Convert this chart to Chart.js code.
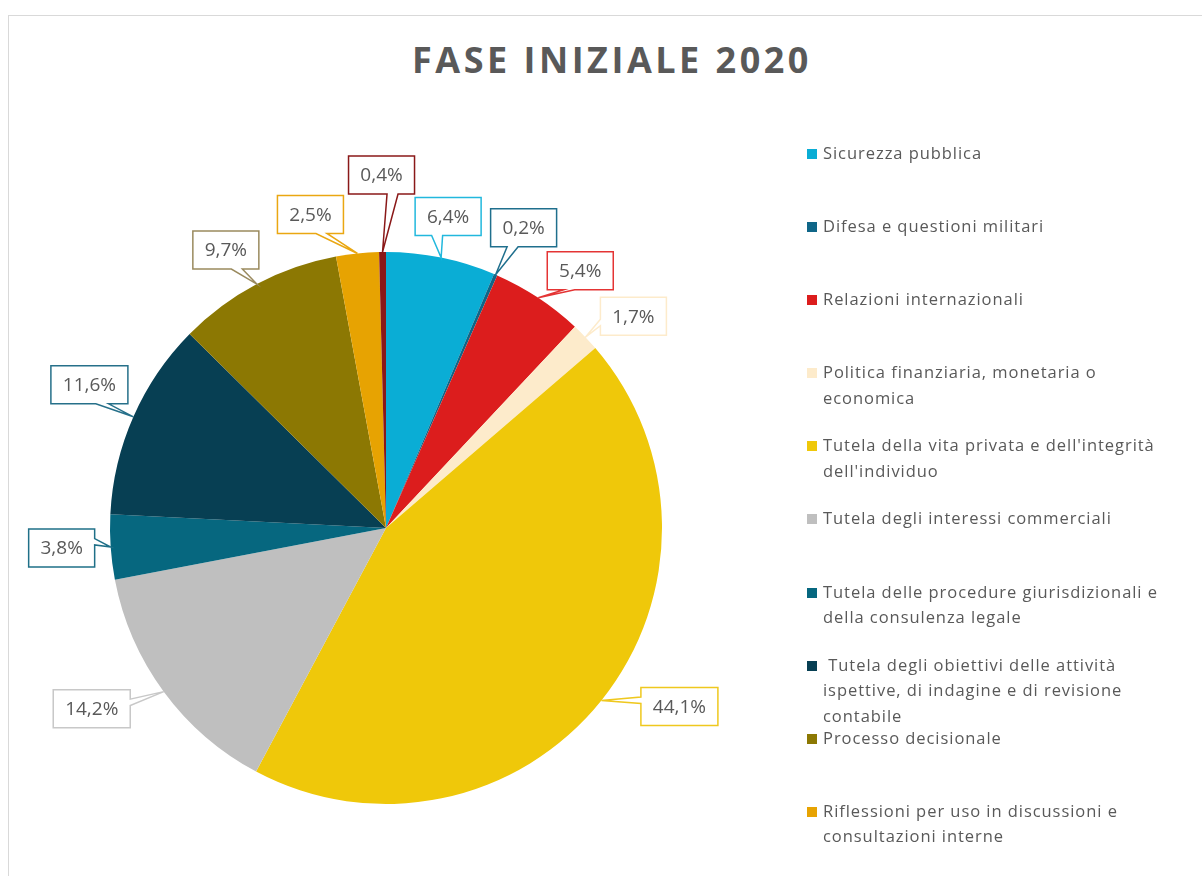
<!DOCTYPE html>
<html lang="it">
<head>
    <meta charset="UTF-8">
    <meta name="viewport" content="width=device-width, initial-scale=1.0">
    <title>Fase iniziale 2020</title>
    <script src="https://cdn.jsdelivr.net/npm/chart.js"></script>
    <style>
        html, body {
            margin: 0;
            padding: 0;
            background: #FFFFFF;
            overflow: hidden;
        }
        body {
            width: 1202px;
            height: 876px;
            position: relative;
            font-family: "Open Sans", sans-serif;
            color: #595959;
        }
        .frame {
            position: absolute;
            left: 8px;
            top: 15px;
            width: 1230px;
            height: 900px;
            border: 1px solid #D9D9D9;
        }
        h2 {
            position: absolute;
            left: 2px;
            top: 42px;
            width: 1220px;
            margin: 0;
            text-align: center;
            font-size: 36px;
            line-height: 36px;
            font-weight: 700;
            letter-spacing: 3.5px;
            color: #595959;
        }
        .chart-box {
            position: absolute;
            left: 0;
            top: 0;
            width: 1202px;
            height: 876px;
        }
        #legend {
            position: absolute;
            left: 806px;
            top: 140px;
            margin: 0;
            padding: 0;
            list-style: none;
            width: 355px;
        }
        #legend li {
            position: relative;
            height: 73.1px;
            padding-left: 17px;
            font-size: 16.5px;
            line-height: 25.5px;
            letter-spacing: 0.95px;
            white-space: pre-wrap;
        }
        #legend li span {
            position: absolute;
            left: 1px;
            top: 9px;
            width: 10px;
            height: 10px;
        }
    </style>
</head>
<body>
    <div class="frame"></div>
    <h2>FASE INIZIALE 2020</h2>
    <div class="chart-box">
        <canvas id="chart"></canvas>
    </div>
    <ul id="legend"></ul>
    <script>
        // categories, clockwise from 12 o'clock
        const categories = [
            "Sicurezza pubblica",
            "Difesa e questioni militari",
            "Relazioni internazionali",
            "Politica finanziaria, monetaria o economica",
            "Tutela della vita privata e dell'integrità dell'individuo",
            "Tutela degli interessi commerciali",
            "Tutela delle procedure giurisdizionali e della consulenza legale",
            " Tutela degli obiettivi delle attività ispettive, di indagine e di revisione contabile",
            "Processo decisionale",
            "Riflessioni per uso in discussioni e consultazioni interne",
            "Altro"
        ];
        // share of requests (%)
        const shares = [6.4, 0.2, 5.4, 1.7, 44.1, 14.2, 3.8, 11.6, 9.7, 2.5, 0.4];

        const sliceColors = [
            "#0AADD5", "#0F6688", "#DC1D1D", "#FDEBCB", "#EFC80A", "#BFBFBF",
            "#06677F", "#073F53", "#8C7803", "#E7A302", "#8A1818"
        ];
        const calloutColors = [
            "#22B8DD", "#1F6F8D", "#E43434", "#FDEBCB", "#EFC81E", "#C8C8C8",
            "#1F7088", "#26708A", "#9A8A5E", "#EAA712", "#8A1818"
        ];
        // callout box centre, relative to the slice tip on the rim
        const calloutOffsets = [
            [7, -41], [28, -47], [42, -27], [48, -21], [78, 6], [-72, 17],
            [-49, 1], [-44, -32], [-31, -34], [-47, -39], [-1, -77]
        ];

        function fmtPct(v) {
            return v.toFixed(1).replace(".", ",") + "%";
        }

        // html legend
        const legendEl = document.getElementById("legend");
        categories.forEach((name, i) => {
            const li = document.createElement("li");
            const sw = document.createElement("span");
            sw.style.background = sliceColors[i];
            li.appendChild(sw);
            li.appendChild(document.createTextNode(name));
            legendEl.appendChild(li);
        });

        // Excel-like wedge callouts with the percentage
        const calloutLabels = {
            id: "calloutLabels",
            afterDatasetsDraw(chart, args, opts) {
                const ctx = chart.ctx;
                const meta = chart.getDatasetMeta(0);
                const values = chart.data.datasets[0].data;
                ctx.save();
                ctx.font = opts.font;
                ctx.textAlign = "center";
                ctx.textBaseline = "middle";
                meta.data.forEach((arc, i) => {
                    const p = arc.getProps(["x", "y", "startAngle", "endAngle", "outerRadius"], true);
                    const mid = (p.startAngle + p.endAngle) / 2;
                    const tx = p.x + Math.cos(mid) * p.outerRadius;
                    const ty = p.y + Math.sin(mid) * p.outerRadius;
                    const cx = tx + opts.offsets[i][0];
                    const cy = ty + opts.offsets[i][1];
                    const text = fmtPct(values[i]);
                    const w = Math.round(ctx.measureText(text).width + opts.padX * 2);
                    const h = opts.boxHeight;
                    const L = cx - w / 2, R = cx + w / 2, T = cy - h / 2, B = cy + h / 2;
                    const dx = tx - cx, dy = ty - cy;
                    const vertical = Math.abs(dy) / h >= Math.abs(dx) / w;

                    ctx.beginPath();
                    ctx.moveTo(L, T);
                    if (vertical && dy < 0) {
                        if (dx < 0) {
                            ctx.lineTo(cx - w / 4, T); ctx.lineTo(tx, ty); ctx.lineTo(cx - w / 12, T);
                        } else {
                            ctx.lineTo(cx + w / 12, T); ctx.lineTo(tx, ty); ctx.lineTo(cx + w / 4, T);
                        }
                    }
                    ctx.lineTo(R, T);
                    if (!vertical && dx > 0) {
                        if (dy < 0) {
                            ctx.lineTo(R, cy - h / 4); ctx.lineTo(tx, ty); ctx.lineTo(R, cy - h / 12);
                        } else {
                            ctx.lineTo(R, cy + h / 12); ctx.lineTo(tx, ty); ctx.lineTo(R, cy + h / 4);
                        }
                    }
                    ctx.lineTo(R, B);
                    if (vertical && dy >= 0) {
                        if (dx > 0) {
                            ctx.lineTo(cx + w / 4, B); ctx.lineTo(tx, ty); ctx.lineTo(cx + w / 12, B);
                        } else {
                            ctx.lineTo(cx - w / 12, B); ctx.lineTo(tx, ty); ctx.lineTo(cx - w / 4, B);
                        }
                    }
                    ctx.lineTo(L, B);
                    if (!vertical && dx <= 0) {
                        if (dy > 0) {
                            ctx.lineTo(L, cy + h / 4); ctx.lineTo(tx, ty); ctx.lineTo(L, cy + h / 12);
                        } else {
                            ctx.lineTo(L, cy - h / 12); ctx.lineTo(tx, ty); ctx.lineTo(L, cy - h / 4);
                        }
                    }
                    ctx.closePath();
                    ctx.fillStyle = "#FFFFFF";
                    ctx.fill();
                    ctx.lineWidth = opts.lineWidth;
                    ctx.strokeStyle = opts.colors[i];
                    ctx.stroke();

                    ctx.fillStyle = opts.textColor;
                    ctx.fillText(text, cx, cy + 1);
                });
                ctx.restore();
            }
        };

        const ctx = document.getElementById("chart").getContext("2d");
        const chart = new Chart(ctx, {
            type: "pie",
            data: {
                labels: categories,
                datasets: [{
                    data: shares,
                    backgroundColor: sliceColors,
                    borderWidth: 0
                }]
            },
            options: {
                responsive: true,
                maintainAspectRatio: false,
                animation: false,
                layout: {
                    padding: { left: 110, top: 252, right: 540, bottom: 72 }
                },
                plugins: {
                    legend: { display: false },
                    tooltip: { enabled: false },
                    calloutLabels: {
                        font: "19px 'Open Sans'",
                        textColor: "#595959",
                        padX: 12,
                        boxHeight: 38,
                        lineWidth: 1.5,
                        colors: calloutColors,
                        offsets: calloutOffsets
                    }
                }
            },
            plugins: [calloutLabels]
        });
    </script>
</body>
</html>
